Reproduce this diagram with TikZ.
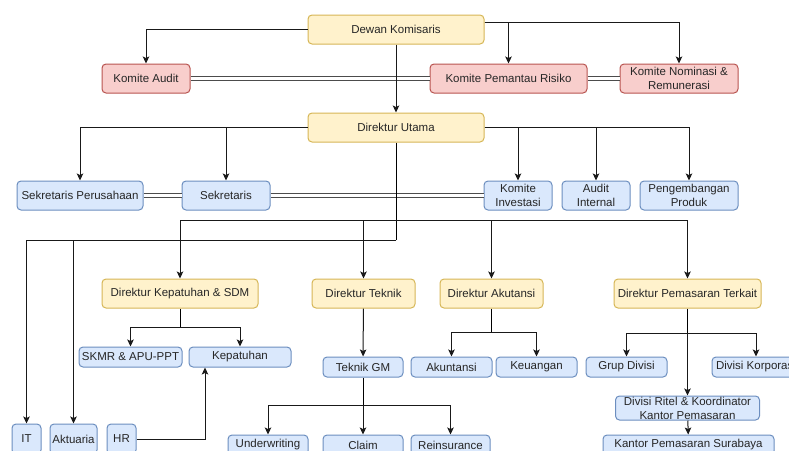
\documentclass[tikz,border=0pt]{standalone}
\usepackage{fontspec}
\setmainfont{Liberation Sans}
\usepackage{tikz}
\usetikzlibrary{arrows.meta}
\definecolor{yfill}{HTML}{FFF2CC}
\definecolor{ydraw}{HTML}{D6B656}
\definecolor{rfill}{HTML}{F8CECC}
\definecolor{rdraw}{HTML}{B85450}
\definecolor{bfill}{HTML}{DAE8FC}
\definecolor{bdraw}{HTML}{6C8EBF}

\begin{document}
\begin{tikzpicture}[>={Stealth[length=7pt, width=6.5pt, inset=1.5pt]}, x=1pt, y=-1pt,
        box/.style={rectangle, rounded corners=4pt, draw, line width=1pt, inner sep=0pt, align=center, text=black!85, font=\fontsize{11.5}{14}\selectfont},
        dirbox/.style={box, fill=yfill, draw=ydraw, minimum height=29pt},
        kombox/.style={box, fill=rfill, draw=rdraw, minimum height=29pt},
        unitbox/.style={box, fill=bfill, draw=bdraw, minimum height=20pt},
        linkline/.style={double, double distance=3pt, line width=1pt, draw=black!70},
        arrline/.style={->, line width=1pt, draw=black!90}]
        \useasboundingbox (0,0) rectangle (789,450);
        \clip (0,0) rectangle (789,450);
        \begin{scope}
            \node [dirbox, minimum width=176pt] (dk) at (396,29.5) {Dewan Komisaris};
            \node [kombox, minimum width=88pt] (ka) at (146,78.5) {Komite Audit};
            \node [kombox, minimum width=157pt] (kpr) at (508.5,78.5) {Komite Pemantau Risiko};
            \node [kombox, minimum width=118pt] (knr) at (679,78.5) {Komite Nominasi \&\\Remunerasi};
            \node [dirbox, minimum width=176pt] (du) at (396,127.5) {Direktur Utama};

            \node [unitbox, minimum width=126pt, minimum height=29pt] (sp) at (80,195.5) {Sekretaris Perusahaan};
            \node [unitbox, minimum width=88pt, minimum height=29pt] (sek) at (226,195.5) {Sekretaris};
            \node [unitbox, minimum width=68pt, minimum height=29pt] (ki) at (518,195.5) {Komite\\Investasi};
            \node [unitbox, minimum width=68pt, minimum height=29pt] (ai) at (596,195.5) {Audit\\Internal};
            \node [unitbox, minimum width=98pt, minimum height=29pt] (pp) at (689,195.5) {Pengembangan\\Produk};

            \node [dirbox, minimum width=156pt] (dks) at (180,293.5) {Direktur Kepatuhan \& SDM};
            \node [dirbox, minimum width=103pt] (dt) at (363.5,293.5) {Direktur Teknik};
            \node [dirbox, minimum width=103pt] (dak) at (491.5,293.5) {Direktur Akutansi};
            \node [dirbox, minimum width=147pt] (dp) at (687.5,293.5) {Direktur Pemasaran Terkait};

            \node [unitbox, minimum width=103pt] (skmr) at (130.5,357) {SKMR \& APU-PPT};
            \node [unitbox, minimum width=102pt] (kep) at (240,357) {Kepatuhan};
            \node [unitbox, minimum width=80pt] (tgm) at (363,367) {Teknik GM};
            \node [unitbox, minimum width=81pt] (akt) at (451.5,367) {Akuntansi};
            \node [unitbox, minimum width=81pt] (keu) at (536.5,367) {Keuangan};
            \node [unitbox, minimum width=81pt] (gd) at (626.5,367) {Grup Divisi};
            \node [unitbox, minimum width=88pt] (dkor) at (756,367) {Divisi Korporasi};
            \node [unitbox, minimum width=144pt, minimum height=24pt] (drk) at (687.5,408) {Divisi Ritel \& Koordinator\\Kantor Pemasaran};
            \node [unitbox, minimum width=171pt] (kps) at (688.5,445) {Kantor Pemasaran Surabaya};

            \node [unitbox, minimum width=29pt, minimum height=30pt] (it) at (26.5,439) {IT};
            \node [unitbox, minimum width=47pt, minimum height=30pt] (aktu) at (73.5,439) {Aktuaria};
            \node [unitbox, minimum width=29pt, minimum height=30pt] (hr) at (121.5,439) {HR};
            \node [unitbox, minimum width=80pt] (uw) at (268,445) {Underwriting};
            \node [unitbox, minimum width=80pt] (cl) at (363,445) {Claim};
            \node [unitbox, minimum width=79pt] (re) at (450.5,445) {Reinsurance};

            \coordinate (ja) at (396,220);
            \coordinate (jb) at (396,240);
            \coordinate (jk) at (180,327);
            \coordinate (jt) at (363,405);
            \coordinate (jc) at (491.5,332);
            \coordinate (jp) at (687.5,333);

            \draw [linkline] (ka) -- (kpr);
            \draw [linkline] (kpr) -- (knr);
            \draw [linkline] (sp) -- (sek);
            \draw [linkline] (sek) -- (ki);

            \draw [arrline] (dk.west) -| (ka.north);
            \draw [arrline] ([yshift=7pt]dk.east) -| (kpr.north);
            \draw [arrline] ([yshift=7pt]dk.east) -| (knr.north);
            \draw [arrline] (dk) -- (du);

            \draw [arrline] (du.west) -| (sp.north);
            \draw [arrline] (du.west) -| (sek.north);
            \draw [arrline] (du.east) -| (ki.north);
            \draw [arrline] (du.east) -| (ai.north);
            \draw [arrline] (du.east) -| (pp.north);

            \draw [line width=1pt] (du.south) -- (jb);
            \draw [arrline] (jb) -| (it.north);
            \draw [arrline] (jb) -| (aktu.north);
            \draw [arrline] (ja) -| (dks.north);
            \draw [arrline] (ja) -| (dt.north);
            \draw [arrline] (ja) -| (dak.north);
            \draw [arrline] (ja) -| (dp.north);

            \draw [line width=1pt] (dks.south) -- (jk);
            \draw [arrline] (jk) -| (skmr.north);
            \draw [arrline] (jk) -| (kep.north);
            \draw [arrline] (hr.east) -| ([xshift=-35pt]kep.south);

            \draw [arrline] (dt) -- (tgm);
            \draw [line width=1pt] (tgm.south) -- (jt);
            \draw [arrline] (jt) -| (uw.north);
            \draw [arrline] (jt) -- (cl.north);
            \draw [arrline] (jt) -| (re.north);

            \draw [line width=1pt] (dak.south) -- (jc);
            \draw [arrline] (jc) -| (akt.north);
            \draw [arrline] (jc) -| (keu.north);

            \draw [line width=1pt] (dp.south) -- (jp);
            \draw [arrline] (jp) -| (gd.north);
            \draw [arrline] (jp) -| (dkor.north);
            \draw [arrline] (jp) -- (drk.north);
            \draw [arrline] (drk) -- (kps);
        \end{scope}
    \end{tikzpicture}
\end{document}
